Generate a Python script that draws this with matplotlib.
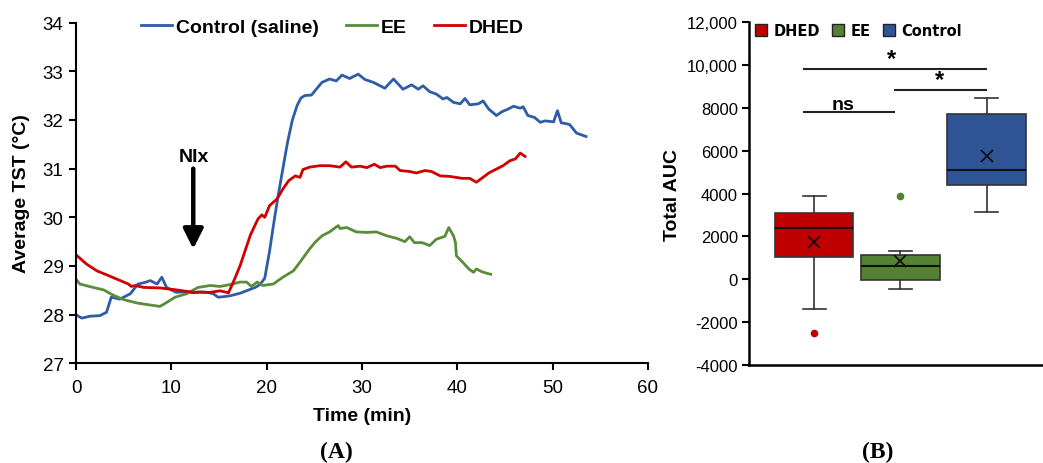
import matplotlib
matplotlib.use("Agg")
import matplotlib.pyplot as plt
from matplotlib.patches import Patch

# ---------------- data: panel A ----------------
t_control = [0, 0.6, 1.5, 2.5, 3.2, 3.7, 4.6, 5.7, 6.5, 7.2, 7.8, 8.5, 9.0, 9.5, 10.5, 11.5,
             12.3, 13.0, 13.7, 14.4, 14.9, 15.5, 16.2, 17.2, 18.0, 18.8, 19.3, 19.8, 20.3,
             20.8, 21.2, 21.7, 22.2, 22.7, 23.2, 23.6, 24.0, 24.7, 25.2, 25.8, 26.6, 27.3,
             27.9, 28.7, 29.6, 30.3, 31.2, 31.9, 32.4, 33.3, 34.3, 35.2, 35.9, 36.4, 37.1,
             37.8, 38.5, 38.9, 39.6, 40.3, 40.8, 41.3, 42.2, 42.7, 43.3, 44.1, 44.7, 45.3,
             45.9, 46.6, 46.9, 47.4, 48.1, 48.7, 49.2, 50.1, 50.5, 50.9, 51.5, 51.8, 52.5,
             53.2, 53.5]
T_control = [28.00, 27.93, 27.97, 27.98, 28.05, 28.36, 28.32, 28.43, 28.63, 28.66, 28.70,
             28.63, 28.77, 28.56, 28.46, 28.47, 28.45, 28.47, 28.46, 28.43, 28.36, 28.37,
             28.39, 28.44, 28.50, 28.56, 28.62, 28.75, 29.30, 29.95, 30.44, 31.00, 31.55,
             32.00, 32.30, 32.45, 32.50, 32.51, 32.63, 32.77, 32.84, 32.80, 32.92, 32.85,
             32.94, 32.83, 32.77, 32.70, 32.65, 32.84, 32.63, 32.72, 32.63, 32.70, 32.58,
             32.53, 32.43, 32.46, 32.36, 32.33, 32.44, 32.31, 32.33, 32.39, 32.22, 32.09,
             32.17, 32.22, 32.28, 32.24, 32.27, 32.09, 32.05, 31.95, 31.98, 31.96, 32.19,
             31.94, 31.92, 31.90, 31.73, 31.68, 31.66]

t_ee = [0, 0.4, 1.8, 2.9, 3.9, 5.0, 6.4, 7.4, 8.8, 9.5, 10.4, 11.6, 12.8, 14.1, 15.1, 16.2,
        17.2, 17.9, 18.4, 19.0, 19.6, 20.7, 21.7, 22.8, 23.5, 24.5, 25.1, 25.8, 26.6, 27.5,
        27.7, 28.4, 29.4, 30.5, 31.5, 32.6, 33.6, 34.5, 35.0, 35.5, 36.3, 37.1, 37.8, 38.7,
        39.1, 39.6, 39.8, 39.9, 40.3, 40.6, 41.2, 41.7, 42.0, 42.6, 43.3, 43.5]
T_ee = [28.73, 28.63, 28.56, 28.51, 28.40, 28.31, 28.24, 28.21, 28.17, 28.25, 28.36, 28.43,
        28.56, 28.60, 28.58, 28.62, 28.67, 28.67, 28.58, 28.67, 28.60, 28.63, 28.77, 28.90,
        29.08, 29.35, 29.49, 29.62, 29.70, 29.83, 29.77, 29.79, 29.70, 29.69, 29.70, 29.62,
        29.57, 29.50, 29.60, 29.48, 29.48, 29.42, 29.55, 29.61, 29.79, 29.62, 29.48, 29.21,
        29.13, 29.07, 28.94, 28.87, 28.94, 28.88, 28.84, 28.83]

t_dhed = [0, 1.1, 2.2, 3.2, 4.4, 5.5, 5.8, 6.2, 7.1, 8.8, 10.5, 12.3, 14.1, 15.1, 16.0, 16.5,
          17.2, 18.3, 19.1, 19.5, 19.8, 20.3, 21.1, 21.7, 22.3, 23.0, 23.5, 23.8, 24.5, 25.6,
          26.6, 27.7, 28.3, 28.9, 29.8, 30.5, 31.3, 31.9, 32.6, 33.5, 34.0, 35.0, 35.7, 36.6,
          37.3, 38.2, 39.2, 40.5, 41.3, 42.0, 42.7, 43.3, 44.1, 44.8, 45.5, 46.1, 46.6, 47.1]
T_dhed = [29.23, 29.04, 28.90, 28.82, 28.72, 28.63, 28.58, 28.60, 28.56, 28.55, 28.51, 28.46,
          28.46, 28.49, 28.45, 28.67, 29.00, 29.64, 29.97, 30.05, 30.00, 30.24, 30.38, 30.58,
          30.75, 30.85, 30.82, 30.98, 31.03, 31.06, 31.06, 31.03, 31.14, 31.03, 31.05, 31.02,
          31.09, 31.02, 31.05, 31.05, 30.96, 30.94, 30.91, 30.96, 30.94, 30.85, 30.84, 30.80,
          30.80, 30.72, 30.82, 30.91, 30.99, 31.06, 31.16, 31.20, 31.32, 31.25]

x_ticks_a = [0, 10, 20, 30, 40, 50, 60]
y_ticks_a = [27, 28, 29, 30, 31, 32, 33, 34]

# ---------------- data: panel B ----------------
groups = ["DHED", "EE", "Control"]
q1 = [1050, -30, 4400]
medians = [2400, 600, 5100]
q3 = [3100, 1120, 7700]
whisker_low = [-1380, -440, 3150]
whisker_high = [3900, 1300, 8450]
means = [1750, 830, 5750]
outliers = [[-2500], [3900], []]
y_ticks_b = [-4000, -2000, 0, 2000, 4000, 6000, 8000, 10000, 12000]
y_ticklabels_b = ["-4000", "-2000", "0", "2000", "4000", "6000", "8000", "10,000", "12,000"]

c_blue = "#2E5CA8"
c_green = "#5A8C3A"
c_red = "#D00000"
box_colors = ["#C00000", "#548235", "#2F5597"]

plt.rcParams["font.family"] = ["Liberation Sans", "DejaVu Sans"]

fig = plt.figure(figsize=(10.43, 4.64), dpi=100)
W, H = 1043.0, 464.0

# ---------------- panel A ----------------
axA = fig.add_axes([76 / W, 1 - 364.4 / H, (648 - 76) / W, (364.4 - 23.5) / H])
lw = 2.0
axA.plot(t_control, T_control, color=c_blue, lw=lw, label="Control (saline)")
axA.plot(t_ee, T_ee, color=c_green, lw=lw, label="EE")
axA.plot(t_dhed, T_dhed, color=c_red, lw=lw, label="DHED")
axA.set_xlim(0, 60)
axA.set_ylim(27, 34)
axA.set_xticks(x_ticks_a)
axA.set_yticks(y_ticks_a)
for s in ["top", "right"]:
    axA.spines[s].set_visible(False)
for s in ["left", "bottom"]:
    axA.spines[s].set_linewidth(1.5)
axA.tick_params(direction="out", length=5, width=1.5, labelsize=13.5)
axA.tick_params(axis="x", pad=6)
axA.tick_params(axis="y", pad=4)
axA.set_xlabel("Time (min)", fontsize=14, fontweight="bold", labelpad=8)
axA.set_ylabel("Average TST (°C)", fontsize=14, fontweight="bold", labelpad=9)
axA.legend(loc="center", bbox_to_anchor=(0.448, 0.987), ncol=3, frameon=False,
           prop={"weight": "bold", "size": 14}, handlelength=1.6,
           handletextpad=0.2, columnspacing=1.4, borderpad=0)
axA.annotate("", xy=(12.3, 29.35), xytext=(12.3, 31.0),
             arrowprops=dict(arrowstyle="-|>,head_width=0.5,head_length=1.0",
                             lw=3.2, color="black", mutation_scale=12, shrinkA=0, shrinkB=0))
axA.text(12.4, 31.24, "NIx", fontsize=14, fontweight="bold", ha="center", va="center")

# ---------------- panel B ----------------
axB = fig.add_axes([749 / W, 1 - 365.7 / H, 0.2825, (365.7 - 23.3) / H])
positions = [1, 2, 3]
stats = []
for i, g in enumerate(groups):
    stats.append(dict(label=g, med=medians[i], q1=q1[i], q3=q3[i],
                      whislo=whisker_low[i], whishi=whisker_high[i],
                      mean=means[i], fliers=outliers[i]))
bp = axB.bxp(stats, positions=positions, widths=0.91, patch_artist=True,
             showmeans=True, showfliers=True,
             boxprops=dict(edgecolor="#333333", linewidth=1.2),
             medianprops=dict(color="#111111", linewidth=1.5),
             whiskerprops=dict(color="#333333", linewidth=1.2),
             capprops=dict(color="#333333", linewidth=1.2),
             meanprops=dict(marker="x", markeredgecolor="#111111", markersize=9,
                            markeredgewidth=1.3))
for patch, col in zip(bp["boxes"], box_colors):
    patch.set_facecolor(col)
for cap in bp["caps"]:
    x0, x1 = cap.get_xdata()
    xc = (x0 + x1) / 2
    cap.set_xdata([xc - 0.135, xc + 0.135])
for fl, col in zip(bp["fliers"], box_colors):
    fl.set(marker="o", markerfacecolor=col, markeredgecolor=col, markersize=4.5)

axB.set_xlim(0.244, 3.66)
axB.set_ylim(-4000, 12000)
axB.set_yticks(y_ticks_b)
axB.set_yticklabels(y_ticklabels_b)
axB.set_xticks([])
for s in ["top", "right"]:
    axB.spines[s].set_visible(False)
for s in ["left", "bottom"]:
    axB.spines[s].set_linewidth(1.8)
axB.tick_params(axis="y", direction="out", length=5, width=1.5, labelsize=12, pad=3)
axB.set_ylabel("Total AUC", fontsize=14, fontweight="bold", labelpad=4)

# significance bars
axB.plot([0.876, 2.99], [9800, 9800], color="#222222", lw=1.5)
axB.plot([1.94, 2.99], [8850, 8850], color="#222222", lw=1.5)
axB.plot([0.876, 1.93], [7800, 7800], color="#222222", lw=1.5)
axB.text(1.9, 9750, "*", fontsize=17, fontweight="bold", ha="center", va="bottom")
axB.text(2.45, 8800, "*", fontsize=17, fontweight="bold", ha="center", va="bottom")
axB.text(1.34, 7780, "ns", fontsize=14, fontweight="bold", ha="center", va="bottom")

handles = [Patch(facecolor=c, edgecolor="#222222", linewidth=1.0) for c in box_colors]
axB.legend(handles, groups, loc="center left", bbox_to_anchor=(0.02, 0.975), ncol=3,
           frameon=False, prop={"family": "DejaVu Sans", "weight": "bold", "size": 10.5},
           handlelength=0.85, handleheight=0.85, handletextpad=0.45,
           columnspacing=0.8, borderpad=0, borderaxespad=0)

# captions
fig.text(336 / W, 1 - 452 / H, "(A)", fontsize=17, fontweight="bold",
         family="Liberation Serif", ha="center", va="center")
fig.text(878 / W, 1 - 452 / H, "(B)", fontsize=17, fontweight="bold",
         family="Liberation Serif", ha="center", va="center")

fig.savefig("out.png", dpi=100)
